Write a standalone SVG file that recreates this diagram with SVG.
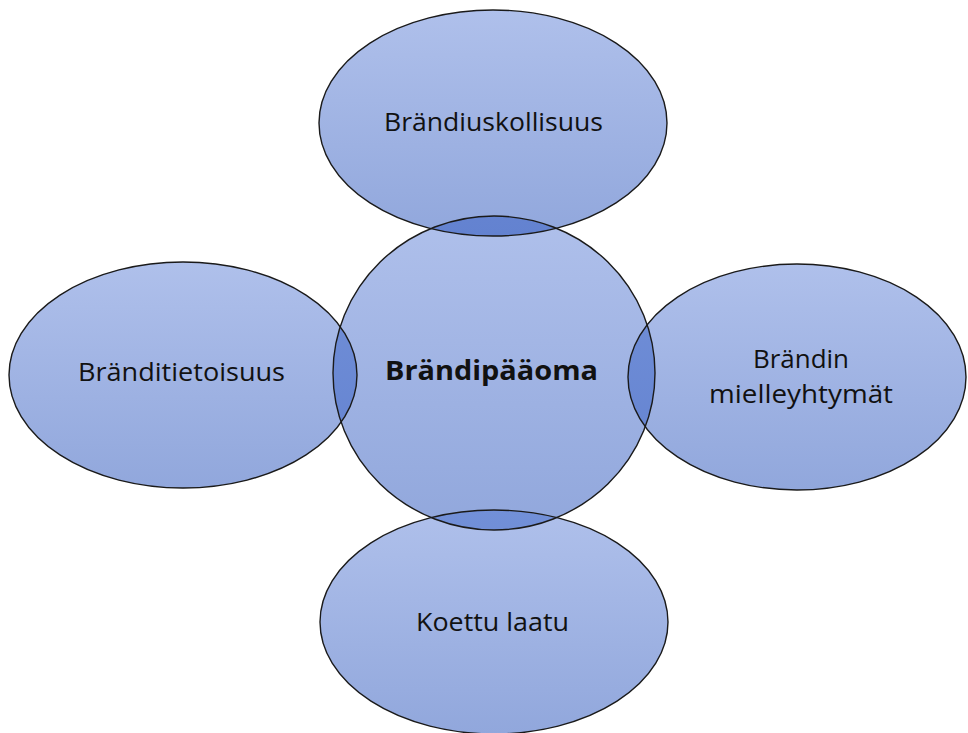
<svg xmlns="http://www.w3.org/2000/svg" width="968" height="733" viewBox="0 0 968 733">
<style>
.fill{stroke:none}
.edge{fill:none;stroke:#1a1a1a;stroke-width:1.4}
.lens{fill:#6b89d3;stroke:none}
text{font-family:"Open Sans","Liberation Sans",sans-serif;font-size:26px;fill:#111;text-anchor:middle}
.bold{font-weight:bold}
</style>
<defs>
<linearGradient id="g" x1="0" y1="0" x2="0" y2="1">
<stop offset="0" stop-color="#afc0eb"/>
<stop offset="1" stop-color="#91a7dc"/>
</linearGradient>
<linearGradient id="gl" x1="0" y1="0" x2="0" y2="1">
<stop offset="0" stop-color="#7290d8"/>
<stop offset="1" stop-color="#6382d0"/>
</linearGradient>
<clipPath id="cc"><ellipse cx="494" cy="373" rx="161" ry="157"/></clipPath>
</defs>
<g id="n-top">
<ellipse class="fill" fill="url(#g)" cx="493" cy="123" rx="174" ry="113"/>
</g>
<g id="n-left">
<ellipse class="fill" fill="url(#g)" cx="183" cy="375" rx="174" ry="113"/>
</g>
<g id="n-right">
<ellipse class="fill" fill="url(#g)" cx="797" cy="377" rx="169" ry="113"/>
</g>
<g id="n-bottom">
<ellipse class="fill" fill="url(#g)" cx="494" cy="622" rx="174" ry="112"/>
</g>
<g id="n-center">
<ellipse class="fill" fill="url(#g)" cx="494" cy="373" rx="161" ry="157"/>
</g>
<g id="overlaps" clip-path="url(#cc)">
<ellipse fill="url(#gl)" cx="493" cy="123" rx="174" ry="113"/>
<ellipse fill="url(#gl)" cx="183" cy="375" rx="174" ry="113"/>
<ellipse fill="url(#gl)" cx="797" cy="377" rx="169" ry="113"/>
<ellipse fill="url(#gl)" cx="494" cy="622" rx="174" ry="112"/>
</g>
<g id="outlines">
<ellipse class="edge" cx="493" cy="123" rx="174" ry="113"/>
<ellipse class="edge" cx="183" cy="375" rx="174" ry="113"/>
<ellipse class="edge" cx="797" cy="377" rx="169" ry="113"/>
<ellipse class="edge" cx="494" cy="622" rx="174" ry="112"/>
<ellipse class="edge" cx="494" cy="373" rx="161" ry="157"/>
</g>
<g id="labels">
<text x="493.5" y="131" textLength="219" lengthAdjust="spacingAndGlyphs">Brändiuskollisuus</text>
<text x="181.5" y="381" textLength="207" lengthAdjust="spacingAndGlyphs">Bränditietoisuus</text>
<text class="bold" x="491.5" y="380" textLength="213" lengthAdjust="spacingAndGlyphs">Brändipääoma</text>
<text x="801" y="368" textLength="96" lengthAdjust="spacingAndGlyphs">Brändin</text>
<text x="801" y="402.5" textLength="184" lengthAdjust="spacingAndGlyphs">mielleyhtymät</text>
<text x="492.5" y="631" textLength="153" lengthAdjust="spacingAndGlyphs">Koettu laatu</text>
</g>
</svg>
